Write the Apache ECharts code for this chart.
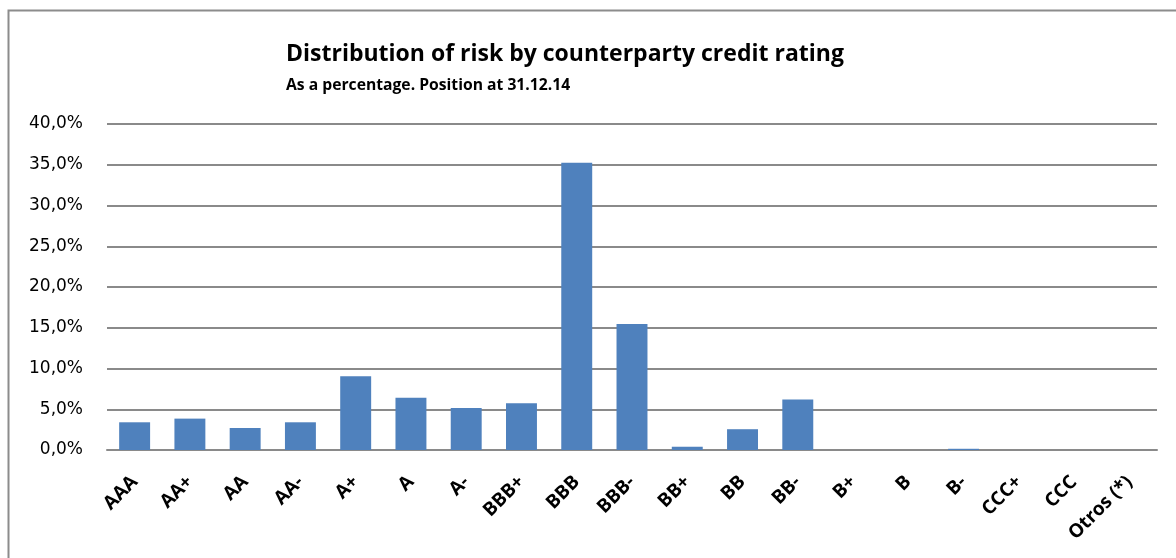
<!DOCTYPE html>
<html>
<head>
<meta charset="utf-8">
<script src="https://cdn.jsdelivr.net/npm/echarts@6/dist/echarts.min.js"></script>
<style>
html,body{margin:0;padding:0;background:#fff;}
#chart{width:1176px;height:558px;}
</style>
</head>
<body>
<div id="chart"></div>
<script>
var categories = ['AAA','AA+','AA','AA-','A+','A','A-','BBB+','BBB','BBB-','BB+','BB','BB-','B+','B','B-','CCC+','CCC','Otros (*)'];
var values = [3.4, 3.85, 2.7, 3.4, 9.05, 6.4, 5.15, 5.75, 35.25, 15.45, 0.4, 2.55, 6.2, 0, 0, 0.15, 0, 0, 0];
var yTicks = [0, 5, 10, 15, 20, 25, 30, 35, 40];
var titleText = 'Distribution of risk by counterparty credit rating';
var subtitleText = 'As a percentage. Position at 31.12.14';

var chart = echarts.init(document.getElementById('chart'));
var gridColor = '#8a8a8a';
chart.setOption({
  animation: false,
  backgroundColor: '#ffffff',
  graphic: [{
    type: 'rect',
    shape: {x: 8.5, y: 10.5, width: 1300, height: 700},
    style: {fill: 'none', stroke: '#8c8c8c', lineWidth: 2},
    silent: true
  }],
  title: {
    text: titleText,
    subtext: subtitleText,
    left: 281,
    top: 38,
    itemGap: 12,
    textStyle: {fontFamily: 'Open Sans', fontWeight: 'bold', fontSize: 23, color: '#000'},
    subtextStyle: {fontFamily: 'Open Sans', fontWeight: 'bold', fontSize: 15.7, color: '#000'}
  },
  grid: {left: 107, right: 19, top: 124, bottom: 108, containLabel: false},
  xAxis: {
    type: 'category',
    data: categories,
    axisLine: {show: true, lineStyle: {color: gridColor, width: 2}},
    axisTick: {show: false},
    axisLabel: {
      rotate: 45, interval: 0, margin: 29,
      fontFamily: 'Open Sans', fontWeight: 'bold', fontSize: 19, color: '#000'
    }
  },
  yAxis: {
    type: 'value',
    min: yTicks[0],
    max: yTicks[yTicks.length - 1],
    interval: 5,
    axisLine: {show: false},
    axisTick: {show: false},
    splitLine: {lineStyle: {color: gridColor, width: 2}},
    axisLabel: {
      margin: 24,
      fontFamily: 'DejaVu Sans', fontSize: 17, color: '#000',
      formatter: function (v) { return v.toFixed(1).replace('.', ',') + '%'; }
    }
  },
  series: [{
    type: 'bar',
    data: values,
    barCategoryGap: '44%',
    itemStyle: {color: '#4f81bd'}
  }]
});
</script>
</body>
</html>
